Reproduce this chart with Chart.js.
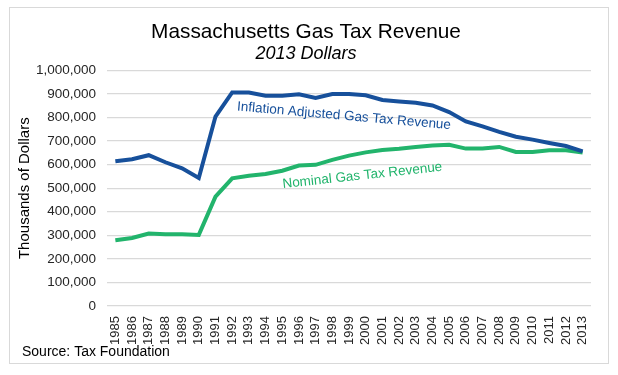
<!DOCTYPE html>
<html>
<head>
<meta charset="utf-8">
<script src="https://cdn.jsdelivr.net/npm/chart.js@4"></script>
<style>
  html, body { margin: 0; padding: 0; background: #fff; }
  #wrap { position: relative; width: 618px; height: 375px; }
</style>
</head>
<body>
<div id="wrap"><canvas id="gasChart"></canvas></div>
<script>
// data (thousands of dollars)
const years = ['1985', '1986', '1987', '1988', '1989', '1990', '1991', '1992', '1993', '1994',
    '1995', '1996', '1997', '1998', '1999', '2000', '2001', '2002', '2003', '2004',
    '2005', '2006', '2007', '2008', '2009', '2010', '2011', '2012', '2013'];
const inflationAdjusted = [614000, 623000, 640000, 610000, 584000, 543000, 804000, 906000, 906000, 892000,
    892000, 898000, 883000, 899000, 899000, 894000, 874000, 868000, 862000, 851000,
    823000, 783000, 762000, 739000, 718000, 706000, 692000, 679000, 656000];
const nominal = [279000, 289000, 308000, 305000, 305000, 302000, 464000, 542000, 553000, 560000,
    574000, 596000, 599000, 620000, 638000, 652000, 662000, 667000, 675000, 681000,
    684000, 668000, 668000, 675000, 654000, 654000, 661000, 661000, 651000];
const yTicks = [0, 100000, 200000, 300000, 400000, 500000, 600000, 700000, 800000, 900000, 1000000];

const blue = '#17509b';
const green = '#22b46c';
const textFont = 'Arial, "Liberation Sans", sans-serif';

// frame around the whole chart, source note, and the line labels
const extras = {
    id: 'extras',
    beforeDraw(chart) {
        const c = chart.ctx;
        c.save();
        c.fillStyle = '#fff';
        c.fillRect(0, 0, chart.width, chart.height);
        c.strokeStyle = '#d9d9d9';
        c.lineWidth = 1;
        c.strokeRect(9.5, 7.5, 599, 356);
        c.restore();
    },
    afterDatasetsDraw(chart) {
        const c = chart.ctx;
        const xs = chart.scales.x;
        const ys = chart.scales.y;
        const labels = [
            { text: 'Inflation Adjusted Gas Tax Revenue', at: 13.7, val: 806000, angle: 5, color: blue },
            { text: 'Nominal Gas Tax Revenue', at: 14.8, val: 553000, angle: -6.2, color: green }
        ];
        c.save();
        c.font = '13.5px ' + textFont;
        c.textAlign = 'center';
        c.textBaseline = 'middle';
        labels.forEach(function (l) {
            c.save();
            c.translate(xs.getPixelForValue(l.at), ys.getPixelForValue(l.val));
            c.rotate(l.angle * Math.PI / 180);
            c.fillStyle = l.color;
            c.fillText(l.text, 0, 0);
            c.restore();
        });
        c.fillStyle = '#000';
        c.textAlign = 'left';
        c.font = '14px ' + textFont;
        c.fillText('Source: Tax Foundation', 22, 352);
        c.restore();
    }
};

const ctx = document.getElementById('gasChart');
new Chart(ctx, {
    type: 'line',
    data: {
        labels: years,
        datasets: [{
            label: 'Inflation Adjusted Gas Tax Revenue',
            data: inflationAdjusted,
            borderColor: blue,
            borderWidth: 4,
            pointRadius: 0,
            tension: 0,
            fill: false
        }, {
            label: 'Nominal Gas Tax Revenue',
            data: nominal,
            borderColor: green,
            borderWidth: 4,
            pointRadius: 0,
            tension: 0,
            fill: false
        }]
    },
    options: {
        responsive: true,
        maintainAspectRatio: false,
        animation: false,
        layout: { padding: { left: 21, right: 27, top: 22, bottom: 28 } },
        plugins: {
            legend: { display: false },
            tooltip: { enabled: false },
            title: {
                display: true,
                text: 'Massachusetts Gas Tax Revenue',
                color: '#000',
                font: { family: textFont, size: 20.8, weight: 'normal', lineHeight: 1 },
                padding: { top: 0, bottom: 2 }
            },
            subtitle: {
                display: true,
                text: '2013 Dollars',
                color: '#000',
                font: { family: textFont, size: 18, style: 'italic', weight: 'normal', lineHeight: 1 },
                padding: { top: 0, bottom: 7.5 }
            }
        },
        scales: {
            x: {
                offset: true,
                grid: { display: false },
                border: { display: false },
                ticks: {
                    color: '#262626',
                    font: { family: textFont, size: 13 },
                    minRotation: 90,
                    maxRotation: 90,
                    autoSkip: false,
                    padding: 2
                }
            },
            y: {
                min: 0,
                max: 1000000,
                afterBuildTicks(axis) {
                    axis.ticks = yTicks.map(function (v) { return { value: v }; });
                },
                afterFit(axis) {
                    axis.width = 86;
                },
                grid: { color: '#d9d9d9', lineWidth: 1.2, drawTicks: false },
                border: { display: false },
                title: {
                    display: true,
                    text: 'Thousands of Dollars',
                    color: '#000',
                    font: { family: textFont, size: 15 },
                    padding: { top: -5, bottom: 4 }
                },
                ticks: {
                    color: '#262626',
                    font: { family: textFont, size: 13.5 },
                    padding: 11,
                    callback: function (v) { return v.toLocaleString('en-US'); }
                }
            }
        }
    },
    plugins: [extras]
});
</script>
</body>
</html>
